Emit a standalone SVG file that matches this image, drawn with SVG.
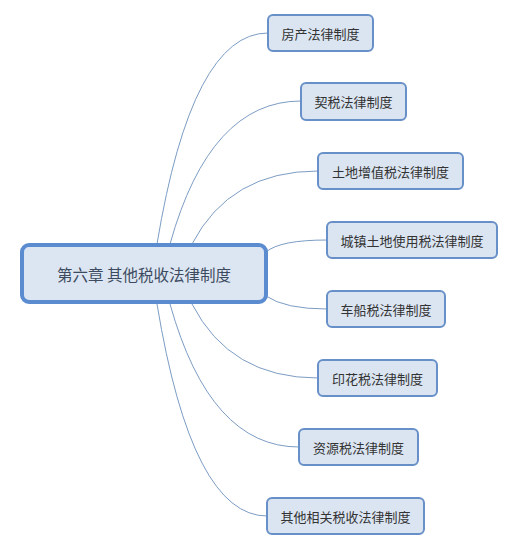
<svg xmlns="http://www.w3.org/2000/svg" width="512" height="551" viewBox="0 0 512 551">
<style>
.n rect{fill:#dbe5f2;stroke:#6790c8;stroke-width:2}
.n text{font-family:"Noto Sans CJK SC","Liberation Sans",sans-serif;font-size:13px;fill:#333;text-anchor:middle;dominant-baseline:central}
.c path{fill:none;stroke:#7c9cc4;stroke-width:1}
</style>
<rect width="512" height="551" fill="#fff"/>
<g class="c" id="connectors">
<path d="M157,244 Q192,33 268,33"/>
<path d="M170,244 Q210,101 301,101"/>
<path d="M192,244 Q230,171 318,171"/>
<path d="M266,252 Q280,240 327,240"/>
<path d="M266,296 Q285,309 327,309"/>
<path d="M192,304 Q230,378 318,378"/>
<path d="M170,304 Q210,447 299,447"/>
<path d="M157,304 Q192,516 267,516"/>
</g>
<g id="root" class="n">
<rect x="22" y="245" width="244" height="57" rx="7" style="stroke:#5b8cd0;stroke-width:4;fill:#dce6f2"/>
<text x="144" y="274" style="font-size:15.5px;fill:#3d4b60">第六章 其他税收法律制度</text>
</g>
<g id="n1" class="n"><rect x="268" y="15" width="105" height="36" rx="5"/><text x="320.5" y="33">房产法律制度</text></g>
<g id="n2" class="n"><rect x="301" y="83" width="105" height="37" rx="5"/><text x="353.5" y="101.5">契税法律制度</text></g>
<g id="n3" class="n"><rect x="318" y="153" width="145" height="36" rx="5"/><text x="390.5" y="171">土地增值税法律制度</text></g>
<g id="n4" class="n"><rect x="327" y="222" width="170" height="36" rx="5"/><text x="412" y="240">城镇土地使用税法律制度</text></g>
<g id="n5" class="n"><rect x="327" y="291" width="118" height="36" rx="5"/><text x="386" y="309">车船税法律制度</text></g>
<g id="n6" class="n"><rect x="318" y="360" width="119" height="36" rx="5"/><text x="377.5" y="378">印花税法律制度</text></g>
<g id="n7" class="n"><rect x="299" y="429" width="119" height="36" rx="5"/><text x="358.5" y="447">资源税法律制度</text></g>
<g id="n8" class="n"><rect x="267" y="498" width="157" height="36" rx="5"/><text x="345.5" y="516">其他相关税收法律制度</text></g>
</svg>
